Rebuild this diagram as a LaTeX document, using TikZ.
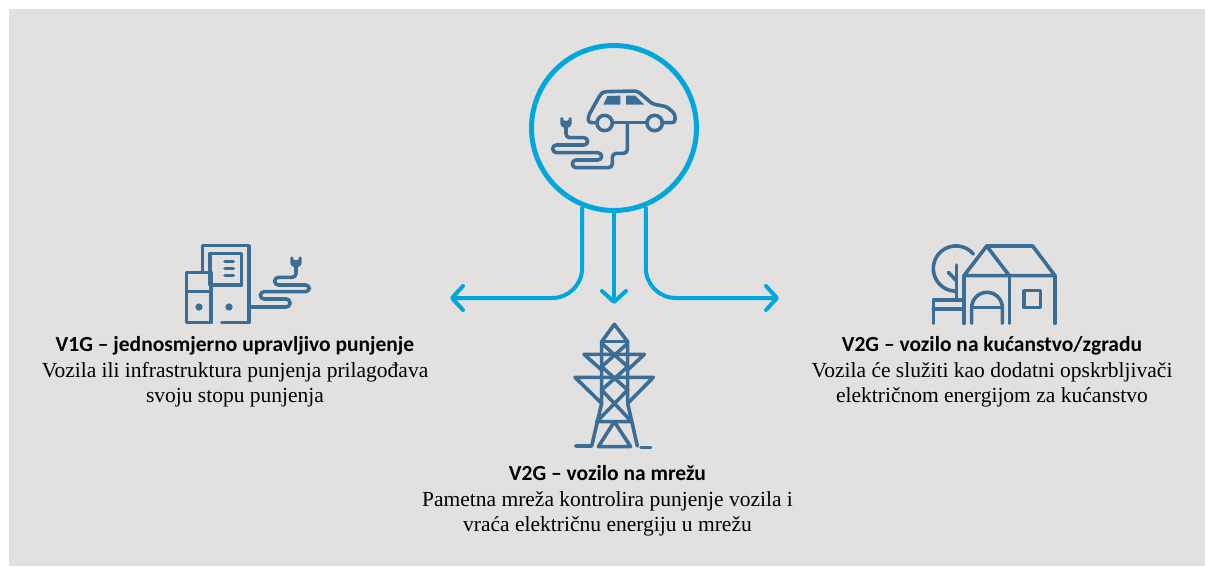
\documentclass[tikz,border=0pt]{standalone}
\usepackage{fontspec}
\setmainfont{Liberation Serif}
\newfontfamily\titlefont{Carlito}
\usetikzlibrary{arrows.meta}
\definecolor{panelgray}{HTML}{E2E1DF}
\definecolor{flowblue}{HTML}{00A7DC}
\definecolor{iconblue}{HTML}{3A6E96}
\tikzset{
  flow/.style={draw=flowblue, line width=4pt, rounded corners=30pt, -{Straight Barb[length=11pt,width=24pt,round]}},
  icon/.style={draw=iconblue, line width=3.6pt, line cap=round, line join=round},
  cable/.style={icon, rounded corners=3.8pt},
  label/.style={align=center, font=\fontsize{21.5}{25.7}\selectfont},
  plugicon/.pic={
    \fill[iconblue, rounded corners=1pt] (-17,0) -- (-8,0) -- (-8,10) -- (8,10) -- (8,0) -- (17,0) -- (17,22) -- (9,31) -- (-9,31) -- (-17,22) -- cycle;
  }
}
\begin{document}
\begin{tikzpicture}[x=1pt,y=-1pt]
\useasboundingbox (0,0) rectangle (1205,566);
\fill[panelgray] (9,9) rectangle (1205,566);

\node[circle, draw=flowblue, line width=5pt, minimum size=165pt, inner sep=0pt] (hub) at (614,128) {};
\coordinate (leftend) at (450,298);
\coordinate (midend) at (614,304);
\coordinate (rightend) at (779,298);
\draw[flow] (hub.-112) |- (leftend);
\draw[flow] (hub.-90) -- (midend);
\draw[flow] (hub.-68) |- (rightend);

\begin{scope}[shift={(520,10)},scale=1/3]
\draw[icon, rounded corners=3pt] (232,338) -- (205,338) -- (205,318) -- (242,252) -- (252,245) -- (352,243) -- (398,282) -- (440,290) -- (465,312) -- (465,338) -- (426,338);
\draw[icon] (282,338) -- (382,338);
\draw[icon] (254,339) circle (23);
\draw[icon] (404,339) circle (23);
\fill[iconblue] (250,284) -- (262,258) -- (301,257) -- (301,284) -- cycle;
\fill[iconblue] (318,257) -- (346,257) -- (373,284) -- (318,284) -- cycle;
\draw[cable] (322,340) -- (322,430) -- (277,430) -- (277,473) -- (157,473) -- (157,450) -- (245,450) -- (245,428) -- (98,428) -- (98,405) -- (203,405) -- (203,383) -- (138,383) -- (138,345);
\pic[transform shape] at (138,322) {plugicon};
\end{scope}

\begin{scope}[shift={(170,230)},scale=1/3]
\draw[icon] (97,125) -- (97,47) -- (237,47) -- (237,278) -- (155,278);
\draw[icon] (120,70) rectangle (215,165);
\draw[icon] (50,127) rectangle (123,278);
\draw[icon] (50,185) -- (123,185);
\foreach \y in {95,115,137} {
  \draw[icon] (165,\y) -- (190,\y);
}
\fill[iconblue] (87,231) circle (11);
\fill[iconblue] (177,231) circle (11);
\draw[cable] (237,231) -- (360,231) -- (360,207) -- (271,207) -- (271,185) -- (418,185) -- (418,165) -- (314,165) -- (314,142) -- (378,142) -- (378,105);
\pic[transform shape] at (378,80) {plugicon};
\end{scope}

\begin{scope}[shift={(560,315)},scale=1/3]
\draw[icon] (125,265) -- (125,80) -- (163,28) -- (203,80) -- (203,265);
\draw[icon] (125,80) -- (203,80);
\draw[icon] (125,85) -- (203,155) -- (125,225) -- (215,320) -- (110,320) -- (203,225) -- (125,155) -- (203,85);
\draw[icon] (125,165) -- (72,118) -- (253,118) -- (203,165);
\draw[icon] (125,265) -- (45,187) -- (280,187) -- (203,265);
\draw[icon] (47,393) -- (95,393) -- (125,265);
\draw[icon] (203,265) -- (232,393);
\draw[icon] (163,320) -- (115,395) -- (212,395) -- cycle;
\draw[icon] (243,397) -- (272,397);
\end{scope}

\begin{scope}[shift={(920,235)},scale=1/3]
\draw[icon] (132,122) -- (200,33) -- (268,122);
\draw[icon] (200,33) -- (338,33) -- (405,122) -- (132,122);
\draw[icon] (132,122) -- (132,265);
\draw[icon] (268,122) -- (268,265);
\draw[icon] (405,122) -- (405,265);
\draw[icon] (155,265) -- (155,218) arc (180:360:46) -- (247,265);
\draw[icon] (155,218) -- (247,218);
\draw[icon] (312,167) rectangle (362,218);
\draw[icon] (160,57) arc (-40:-268:68);
\draw[icon] (110,90) -- (110,195);
\draw[icon] (85,112) -- (110,138);
\draw[icon] (40,265) -- (40,195) -- (132,195);
\draw[icon] (40,222) -- (132,222);
\end{scope}

\node[label] (v1g) at (235,372) {{\titlefont\bfseries V1G – jednosmjerno upravljivo punjenje}\\Vozila ili infrastruktura punjenja prilagođava\\svoju stopu punjenja};
\node[label] (v2grid) at (607.5,501) {{\titlefont\bfseries V2G – vozilo na mrežu}\\Pametna mreža kontrolira punjenje vozila i\\vraća električnu energiju u mrežu};
\node[label] (v2home) at (992,372) {{\titlefont\bfseries V2G – vozilo na kućanstvo/zgradu}\\Vozila će služiti kao dodatni opskrbljivači\\električnom energijom za kućanstvo};
\end{tikzpicture}
\end{document}
